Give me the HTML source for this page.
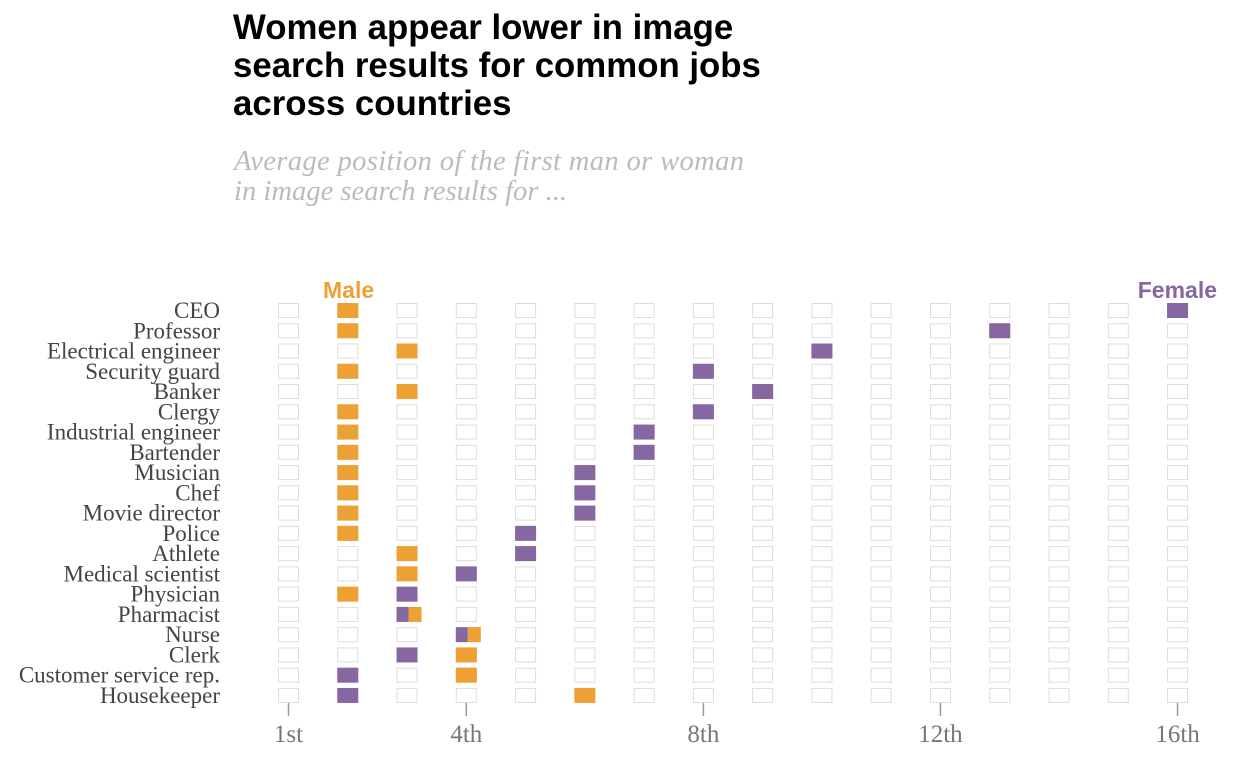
<!DOCTYPE html>
<html><head><meta charset="utf-8"><style>
html,body{margin:0;padding:0;background:#fff;width:1248px;height:768px;overflow:hidden}
</style></head><body>
<svg id="s" width="1248" height="768" xmlns="http://www.w3.org/2000/svg">
<g font-family="Liberation Sans, sans-serif" font-weight="bold" font-size="34.8" fill="#000">
<text x="233" y="39">Women appear lower in image</text>
<text x="233" y="77">search results for common jobs</text>
<text x="233" y="115">across countries</text>
</g>
<g font-family="Liberation Serif, serif" font-style="italic" font-size="28.6" fill="#bbb">
<text x="234" y="170" textLength="510">Average position of the first man or woman</text>
<text x="234" y="200">in image search results for ...</text>
</g>
<text x="323" y="298" font-family="Liberation Sans, sans-serif" font-weight="bold" font-size="23" fill="#EDA033">Male</text>
<text x="1217" y="298" text-anchor="end" font-family="Liberation Sans, sans-serif" font-weight="bold" font-size="23" fill="#8767A2">Female</text>
<g id="g"></g>
</svg>
<script>
var rows=[["CEO",2,16],["Professor",2,13],["Electrical engineer",3,10],["Security guard",2,8],["Banker",3,9],["Clergy",2,8],["Industrial engineer",2,7],["Bartender",2,7],["Musician",2,6],["Chef",2,6],["Movie director",2,6],["Police",2,5],["Athlete",3,5],["Medical scientist",3,4],["Physician",2,3],["Pharmacist",3,3],["Nurse",4,4],["Clerk",4,3],["Customer service rep.",4,2],["Housekeeper",6,2]];
var h='',W=59.27,x0=278,y0=303,dy=20.26;
function X(p){return x0+(p-1)*W}
rows.forEach(function(r,i){
 var y=y0+i*dy;
 h+='<text x="220" y="'+(y+15)+'" text-anchor="end" font-family="Liberation Serif, serif" font-size="23" fill="#444">'+r[0]+'</text>';
 for(var p=1;p<=16;p++) h+='<rect x="'+(X(p)+0.5)+'" y="'+(y+0.5)+'" width="20" height="14" fill="#fff" stroke="#ddd" stroke-width="1"/>';
 if(r[1]==r[2]){var x=X(r[1]);
  h+='<rect x="'+x+'" y="'+y+'" width="12" height="15" fill="#8767A2"/><rect x="'+(x+12)+'" y="'+y+'" width="13" height="15" fill="#EDA033"/>';
 } else {
  h+='<rect x="'+X(r[1])+'" y="'+y+'" width="21" height="15" fill="#EDA033"/>';
  h+='<rect x="'+X(r[2])+'" y="'+y+'" width="21" height="15" fill="#8767A2"/>';
 }
});
[[1,"1st"],[4,"4th"],[8,"8th"],[12,"12th"],[16,"16th"]].forEach(function(t){
 var c=X(t[0])+10.5;
 h+='<line x1="'+c+'" y1="703" x2="'+c+'" y2="716" stroke="#999" stroke-width="1.5"/>';
 h+='<text x="'+c+'" y="742" text-anchor="middle" font-family="Liberation Serif, serif" font-size="25" fill="#777">'+t[1]+'</text>';
});
document.getElementById('g').innerHTML=h;
</script>
</body></html>
